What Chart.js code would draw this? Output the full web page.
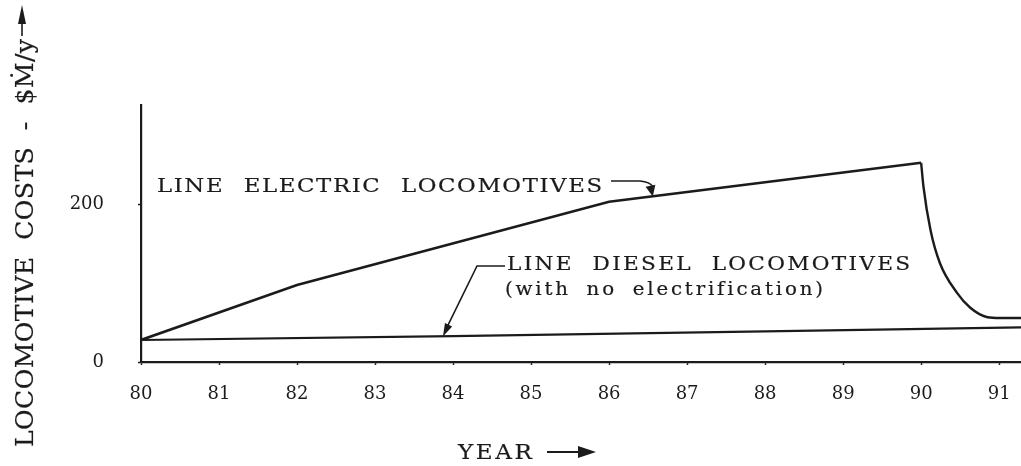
<!DOCTYPE html>
<html>
<head>
<meta charset="utf-8">
<script src="https://cdn.jsdelivr.net/npm/chart.js@4.4.0/dist/chart.umd.min.js"></script>
<style>
html, body { margin: 0; padding: 0; background: #fff; }
</style>
</head>
<body>
<canvas id="chart" width="1021" height="466"></canvas>
<script>
// values (years 19xx, costs in $M per year)
let electricYears = [80, 82, 86, 90];
let electricCosts = [28, 98, 204, 253.5];

let rundownYears = [90, 90.03, 90.12, 90.24, 90.46, 90.63, 90.85, 91.01, 91.28];
let rundownCosts = [253.5, 223, 168, 126, 88, 69, 57, 56, 56];

let dieselYears = [80, 84, 88, 91.28];
let dieselCosts = [28, 33, 39, 44];

let yearTicks = [80, 81, 82, 83, 84, 85, 86, 87, 88, 89, 90, 91];
let costTicks = [0, 200];

let ink = "#1b1b1b";
let serif = "'DejaVu Serif', 'Liberation Serif', serif";

function points(xs, ys) {
    return xs.map((x, i) => ({ x: x, y: ys[i] }));
}

// typewriter-ish text: widened glyphs, spread over a given width
function spaced(ctx, text, x, y, width, wordGap, stretch) {
    let chars = Array.from(text);
    let extra = wordGap || 0;
    let sx = stretch || 1;
    let natural = 0, spaces = 0;
    chars.forEach(c => {
        natural += ctx.measureText(c).width;
        if (c == " ") spaces++;
    });
    let gap = (width / sx - natural - spaces * extra) / (chars.length - 1);
    ctx.save();
    ctx.translate(x, y);
    ctx.scale(sx, 1);
    ctx.lineWidth = 0.2;
    let cx = 0;
    chars.forEach(c => {
        ctx.fillText(c, cx, 0);
        ctx.strokeText(c, cx, 0);
        cx += ctx.measureText(c).width + gap + (c == " " ? extra : 0);
    });
    ctx.restore();
}

function arrowHead(ctx, tipX, tipY, fromX, fromY, len, half) {
    let a = Math.atan2(tipY - fromY, tipX - fromX);
    ctx.beginPath();
    ctx.moveTo(tipX, tipY);
    ctx.lineTo(tipX - len * Math.cos(a) + half * Math.sin(a), tipY - len * Math.sin(a) - half * Math.cos(a));
    ctx.lineTo(tipX - len * Math.cos(a) - half * Math.sin(a), tipY - len * Math.sin(a) + half * Math.cos(a));
    ctx.closePath();
    ctx.fill();
}

let annotations = {
    id: "annotations",
    afterDraw(chart) {
        let ctx = chart.ctx;
        let xs = chart.scales.x, ys = chart.scales.y;
        ctx.save();
        ctx.fillStyle = ink;
        ctx.strokeStyle = ink;
        ctx.textBaseline = "alphabetic";

        // y axis title, rotated, with arrow pointing up
        ctx.save();
        ctx.font = "24px " + serif;
        ctx.translate(33, 447);
        ctx.rotate(-Math.PI / 2);
        spaced(ctx, "LOCOMOTIVE COSTS - $\u1E40/y", 0, 0, 408, 8, 1.05);
        ctx.restore();
        ctx.lineWidth = 1.6;
        ctx.beginPath();
        ctx.moveTo(22, 36);
        ctx.lineTo(22, 20);
        ctx.stroke();
        arrowHead(ctx, 22, 5, 22, 36, 19, 4);

        // x axis title
        ctx.font = "21px " + serif;
        spaced(ctx, "YEAR", 458, 459, 74, 0, 1.1);
        ctx.lineWidth = 2;
        ctx.beginPath();
        ctx.moveTo(547, 452);
        ctx.lineTo(582, 452);
        ctx.stroke();
        arrowHead(ctx, 596, 452, 547, 452, 18, 6);

        // electric label and its leader
        ctx.font = "19px " + serif;
        spaced(ctx, "LINE ELECTRIC LOCOMOTIVES", 157, 192, 445, 9, 1.2);
        let ex = xs.getPixelForValue(86.56), ey = ys.getPixelForValue(210.5);
        ctx.lineWidth = 1.6;
        ctx.beginPath();
        ctx.moveTo(611, 181);
        ctx.lineTo(640, 181);
        ctx.quadraticCurveTo(650, 182, ex, ey - 10);
        ctx.stroke();
        arrowHead(ctx, ex, ey, ex - 3, ey - 14, 11, 5);

        // diesel label and its leader
        ctx.font = "18px " + serif;
        spaced(ctx, "LINE DIESEL LOCOMOTIVES", 507, 270, 403, 8, 1.2);
        spaced(ctx, "(with no electrification)", 505, 295, 318, 6, 1.1);
        let dx = xs.getPixelForValue(83.87), dy = ys.getPixelForValue(32.5);
        ctx.lineWidth = 1.6;
        ctx.beginPath();
        ctx.moveTo(505, 266);
        ctx.lineTo(477, 266);
        ctx.lineTo(dx + 4, dy - 9);
        ctx.stroke();
        arrowHead(ctx, dx, dy, 477, 266, 13, 4);

        ctx.restore();
    }
};

let chart = new Chart(document.getElementById("chart"), {
    type: 'line',
    data: {
        datasets: [{
            label: 'Line electric locomotives',
            data: points(electricYears, electricCosts),
            borderColor: ink,
            borderWidth: 2.6,
            pointRadius: 0,
            tension: 0
        }, {
            label: 'Line electric locomotives (run-down)',
            data: points(rundownYears, rundownCosts),
            borderColor: ink,
            borderWidth: 2.4,
            pointRadius: 0,
            cubicInterpolationMode: 'monotone'
        }, {
            label: 'Line diesel locomotives (with no electrification)',
            data: points(dieselYears, dieselCosts),
            borderColor: ink,
            borderWidth: 2.2,
            pointRadius: 0,
            tension: 0
        }]
    },
    options: {
        responsive: false,
        animation: false,
        layout: { padding: { top: 105, left: 0, right: 0, bottom: 0 } },
        plugins: {
            legend: { display: false },
            tooltip: { enabled: false }
        },
        scales: {
            x: {
                type: 'linear',
                min: 80,
                max: 91.28,
                afterBuildTicks: s => { s.ticks = yearTicks.map(v => ({ value: v })); },
                afterFit: s => { s.height = 104; s.paddingLeft = 0; s.paddingRight = 0; },
                grid: { drawOnChartArea: false, tickLength: 3, tickColor: ink, tickWidth: 1.5 },
                border: { color: ink, width: 2.2 },
                ticks: {
                    color: ink,
                    font: { family: serif, size: 18 },
                    padding: 19,
                    maxRotation: 0,
                    autoSkip: false
                }
            },
            y: {
                min: 0,
                max: 327,
                afterBuildTicks: s => { s.ticks = costTicks.map(v => ({ value: v })); },
                afterFit: s => { s.width = 141; s.paddingTop = 0; s.paddingBottom = 0; },
                grid: { drawOnChartArea: false, tickLength: 3, tickColor: ink, tickWidth: 1.5 },
                border: { color: ink, width: 2.2 },
                ticks: {
                    color: ink,
                    font: { family: serif, size: 18 },
                    padding: 34
                }
            }
        }
    },
    plugins: [annotations]
});
</script>
</body>
</html>
